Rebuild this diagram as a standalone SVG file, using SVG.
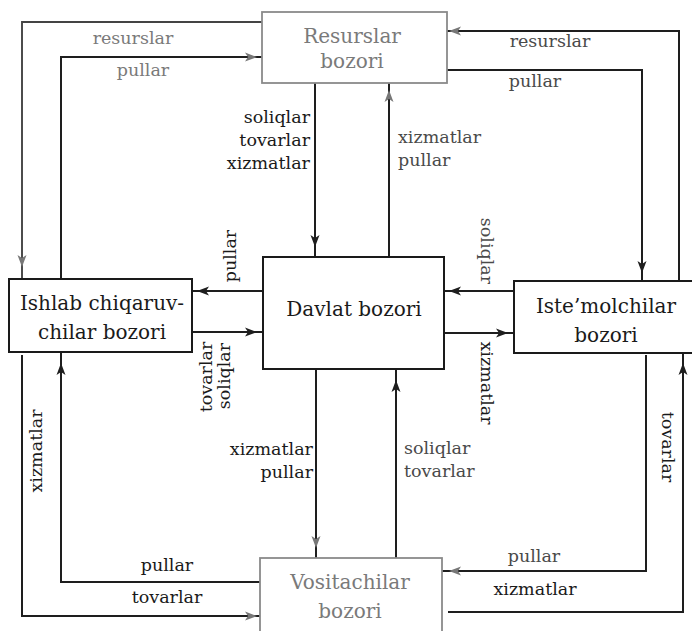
<svg xmlns="http://www.w3.org/2000/svg" xmlns:xlink="http://www.w3.org/1999/xlink" width="692" height="631" viewBox="0 0 692 631">
<defs>
<style>
text{font-family:"DejaVu Serif","Liberation Serif",serif;}
.box{fill:#fff;stroke:#1a1a1a;stroke-width:2;}
.gbox{fill:#fff;stroke:#8a8a8a;stroke-width:1.8;}
.bt{font-size:20px;fill:#1a1a1a;text-anchor:middle;}
.gt{font-size:20px;fill:#7a7a7a;text-anchor:middle;}
.ln{fill:none;stroke:#1e1e1e;stroke-width:2;}
.gl{fill:none;stroke:#444;stroke-width:1.9;}
.lb{font-size:17.5px;fill:#1a1a1a;}
.glb{font-size:17.5px;fill:#7a7a7a;}
.mlb{font-size:17.5px;fill:#4a4a4a;}
.ah{fill:#1e1e1e;}
.gah{fill:#777;}
</style>
<path id="ah" d="M0,0 L-12,-4.5 L-9,0 L-12,4.5 Z"/>
</defs>
<rect width="692" height="631" fill="#fff"/>

<g id="connectors">
<path class="gl" d="M263,22 H22 V279"/>
<path class="ln" d="M61,279 V57 H262"/>
<path class="ln" d="M679,280 V31 H447"/>
<path class="ln" d="M447,70 H642 V280"/>
<path class="ln" d="M315,83 V257"/>
<path class="ln" d="M389,257 V83"/>
<path class="ln" d="M263,291 H192"/>
<path class="ln" d="M192,332 H263"/>
<path class="ln" d="M514,291 H444"/>
<path class="ln" d="M444,333 H514"/>
<path class="ln" d="M316,369 V558"/>
<path class="ln" d="M396,558 V369"/>
<path class="ln" d="M260,582 H61 V352"/>
<path class="ln" d="M22,355 V616 H260"/>
<path class="ln" d="M646,355 V571 H442"/>
<path class="ln" d="M448,612 H683 V353"/>

<use xlink:href="#ah" class="gah" transform="translate(22,267) rotate(90)"/>
<use xlink:href="#ah" class="gah" transform="translate(257,57)"/>
<use xlink:href="#ah" class="gah" transform="translate(449,31) rotate(180)"/>
<use xlink:href="#ah" class="ah" transform="translate(642,273) rotate(90)"/>
<use xlink:href="#ah" class="ah" transform="translate(315,247) rotate(90)"/>
<use xlink:href="#ah" class="gah" transform="translate(389,90) rotate(-90)"/>
<use xlink:href="#ah" class="ah" transform="translate(197,291) rotate(180)"/>
<use xlink:href="#ah" class="ah" transform="translate(257,332)"/>
<use xlink:href="#ah" class="ah" transform="translate(449,291) rotate(180)"/>
<use xlink:href="#ah" class="ah" transform="translate(508,333)"/>
<use xlink:href="#ah" class="gah" transform="translate(316,548) rotate(90)"/>
<use xlink:href="#ah" class="ah" transform="translate(396,380) rotate(-90)"/>
<use xlink:href="#ah" class="ah" transform="translate(61,363) rotate(-90)"/>
<use xlink:href="#ah" class="gah" transform="translate(257,616)"/>
<use xlink:href="#ah" class="gah" transform="translate(449,571) rotate(180)"/>
<use xlink:href="#ah" class="ah" transform="translate(683,363) rotate(-90)"/>

<text class="glb" x="133" y="44" text-anchor="middle">resurslar</text>
<text class="glb" x="143" y="76" text-anchor="middle">pullar</text>
<text class="mlb" x="550" y="47" text-anchor="middle">resurslar</text>
<text class="mlb" x="535" y="87" text-anchor="middle">pullar</text>
<text class="lb" x="310" y="123" text-anchor="end">soliqlar</text>
<text class="lb" x="310" y="146" text-anchor="end">tovarlar</text>
<text class="lb" x="310" y="169" text-anchor="end">xizmatlar</text>
<text class="mlb" x="398" y="143">xizmatlar</text>
<text class="mlb" x="398" y="166">pullar</text>
<text class="lb" text-anchor="middle" transform="translate(236,256) rotate(-90)">pullar</text>
<text class="lb" text-anchor="middle" transform="translate(212,377) rotate(-90)">tovarlar</text>
<text class="lb" text-anchor="middle" transform="translate(230,376) rotate(-90)">soliqlar</text>
<text class="mlb" text-anchor="middle" transform="translate(481,251) rotate(90)">soliqlar</text>
<text class="lb" text-anchor="middle" transform="translate(481,383) rotate(90)">xizmatlar</text>
<text class="lb" text-anchor="middle" transform="translate(42,451) rotate(-90)">xizmatlar</text>
<text class="lb" x="313" y="455" text-anchor="end">xizmatlar</text>
<text class="lb" x="313" y="478" text-anchor="end">pullar</text>
<text class="mlb" x="404" y="454">soliqlar</text>
<text class="mlb" x="404" y="477">tovarlar</text>
<text class="lb" text-anchor="middle" transform="translate(662,447) rotate(90)">tovarlar</text>
<text class="lb" x="167" y="571" text-anchor="middle">pullar</text>
<text class="lb" x="167" y="603" text-anchor="middle">tovarlar</text>
<text class="mlb" x="534" y="562" text-anchor="middle">pullar</text>
<text class="lb" x="535" y="595" text-anchor="middle">xizmatlar</text>
</g>

<g id="resurslar-bozori">
<rect class="gbox" x="262" y="12" width="185" height="71"/>
<text class="gt" x="352" y="43">Resurslar</text>
<text class="gt" x="352" y="68">bozori</text>
</g>

<g id="davlat-bozori">
<rect class="box" x="263" y="257" width="181" height="112"/>
<text class="bt" x="354" y="316">Davlat bozori</text>
</g>

<g id="ishlab-chiqaruvchilar-bozori">
<rect class="box" x="9" y="279" width="183" height="73"/>
<text class="bt" x="102" y="310">Ishlab chiqaruv-</text>
<text class="bt" x="102" y="339">chilar bozori</text>
</g>

<g id="istemolchilar-bozori">
<rect class="box" x="514" y="281" width="190" height="72"/>
<text class="bt" x="606" y="313">Iste’molchilar</text>
<text class="bt" x="606" y="342">bozori</text>
</g>

<g id="vositachilar-bozori">
<rect class="gbox" x="260" y="558" width="182" height="90"/>
<text class="gt" x="350" y="589">Vositachilar</text>
<text class="gt" x="350" y="618">bozori</text>
</g>
</svg>
